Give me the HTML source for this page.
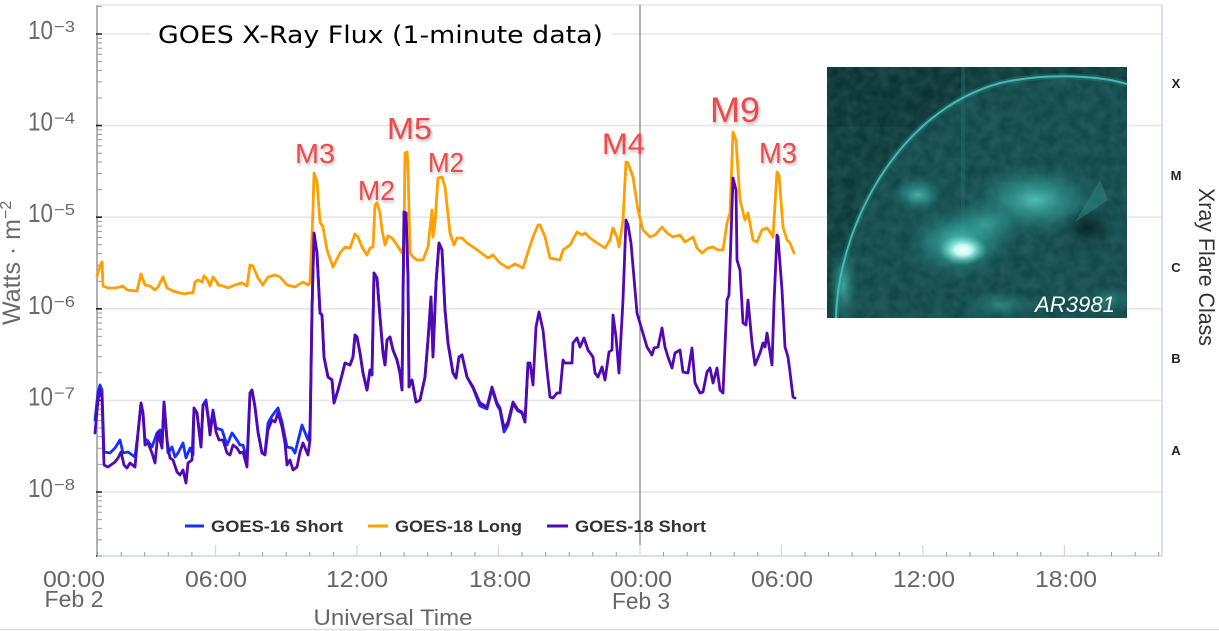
<!DOCTYPE html>
<html>
<head>
<meta charset="utf-8">
<style>
  html,body{margin:0;padding:0;background:#fff;}
  body{width:1219px;height:631px;overflow:hidden;}
  svg{display:block;}
  text{font-family:"Liberation Sans","DejaVu Sans",sans-serif;}
</style>
</head>
<body>
<svg width="1219" height="631" viewBox="0 0 1219 631" xmlns="http://www.w3.org/2000/svg">
  <defs>
    <clipPath id="inset"><rect x="827" y="67" width="300" height="251"/></clipPath>
    <radialGradient id="gMid" cx="50%" cy="50%" r="50%">
      <stop offset="0" stop-color="#5fd8cf" stop-opacity="0.85"/>
      <stop offset="0.5" stop-color="#2f9c96" stop-opacity="0.55"/>
      <stop offset="1" stop-color="#1b6b68" stop-opacity="0"/>
    </radialGradient>
    <radialGradient id="gCore" cx="50%" cy="50%" r="50%">
      <stop offset="0" stop-color="#ffffff" stop-opacity="1"/>
      <stop offset="0.35" stop-color="#c8fff8" stop-opacity="0.95"/>
      <stop offset="1" stop-color="#4fd0c6" stop-opacity="0"/>
    </radialGradient>
    <radialGradient id="gDark" cx="50%" cy="50%" r="50%">
      <stop offset="0" stop-color="#061f1f" stop-opacity="0.8"/>
      <stop offset="1" stop-color="#061f1f" stop-opacity="0"/>
    </radialGradient>
    <filter id="sh" x="-20%" y="-20%" width="140%" height="160%">
      <feDropShadow dx="1" dy="2" stdDeviation="1.5" flood-color="#777" flood-opacity="0.55"/>
    </filter>
    <filter id="noise" x="0" y="0" width="100%" height="100%">
      <feTurbulence type="fractalNoise" baseFrequency="0.09" numOctaves="2" seed="3" result="t"/>
      <feColorMatrix in="t" type="matrix" values="0 0 0 0 0.15  0 0 0 0 0.45  0 0 0 0 0.44  0 0 0 0.5 -0.1"/>
    </filter>
  </defs>

  <!-- plot frame / gridlines -->
  <line x1="97" y1="5" x2="1162" y2="5" stroke="#e6e6e6" stroke-width="1.5"/>
  <g stroke="#e6e6e6" stroke-width="1.6">
    <line x1="97" y1="34" x2="1162" y2="34"/>
    <line x1="97" y1="125.6" x2="1162" y2="125.6"/>
    <line x1="97" y1="217.2" x2="1162" y2="217.2"/>
    <line x1="97" y1="308.8" x2="1162" y2="308.8"/>
    <line x1="97" y1="400.4" x2="1162" y2="400.4"/>
    <line x1="97" y1="492" x2="1162" y2="492"/>
  </g>
  <line x1="1162" y1="5" x2="1162" y2="556" stroke="#ccd6eb" stroke-width="1.5"/>

  <!-- Feb 3 vertical line -->
  <line x1="640" y1="5" x2="640" y2="556" stroke="#666" stroke-width="1"/>

  <!-- title -->
  <rect x="150" y="18" width="462" height="34" fill="#fff"/>
  <text x="158" y="43" font-size="24" fill="#000" textLength="445" lengthAdjust="spacingAndGlyphs" style="font-family:'DejaVu Sans','Liberation Sans',sans-serif">GOES X-Ray Flux (1-minute data)</text>

  <!-- y axis -->
  <line x1="97" y1="5" x2="97" y2="556" stroke="#999" stroke-width="1.5"/>
  <path stroke="#999" stroke-width="1" fill="none" d="
    M97 556h5M97 539.9h5M97 528.4h5M97 519.6h5M97 512.3h5M97 506.2h5M97 500.9h5M97 496.2h5
    M97 464.4h5M97 448.3h5M97 436.8h5M97 428h5M97 420.7h5M97 414.6h5M97 409.3h5M97 404.6h5
    M97 372.8h5M97 356.7h5M97 345.2h5M97 336.4h5M97 329.1h5M97 323h5M97 317.7h5M97 313h5
    M97 281.2h5M97 265.1h5M97 253.6h5M97 244.8h5M97 237.5h5M97 231.4h5M97 226.1h5M97 221.4h5
    M97 189.6h5M97 173.5h5M97 162h5M97 153.2h5M97 145.9h5M97 139.8h5M97 134.5h5M97 129.8h5
    M97 98h5M97 81.9h5M97 70.4h5M97 61.6h5M97 54.3h5M97 48.2h5M97 42.9h5M97 38.2h5
    M97 6.4h5"/>
  <path stroke="#222" stroke-width="1.6" fill="none" d="M96 34h6M96 125.6h6M96 217.2h6M96 308.8h6M96 400.4h6M96 492h6M96 556h6"/>

  <g fill="#6a6a6a">
    <text x="28" y="39" font-size="26" textLength="25" lengthAdjust="spacingAndGlyphs">10</text>
    <text x="54" y="32" font-size="16" textLength="21" lengthAdjust="spacingAndGlyphs">−3</text>
    <text x="28" y="130.6" font-size="26" textLength="25" lengthAdjust="spacingAndGlyphs">10</text>
    <text x="54" y="123.6" font-size="16" textLength="21" lengthAdjust="spacingAndGlyphs">−4</text>
    <text x="28" y="222.2" font-size="26" textLength="25" lengthAdjust="spacingAndGlyphs">10</text>
    <text x="54" y="215.2" font-size="16" textLength="21" lengthAdjust="spacingAndGlyphs">−5</text>
    <text x="28" y="313.8" font-size="26" textLength="25" lengthAdjust="spacingAndGlyphs">10</text>
    <text x="54" y="306.8" font-size="16" textLength="21" lengthAdjust="spacingAndGlyphs">−6</text>
    <text x="28" y="405.4" font-size="26" textLength="25" lengthAdjust="spacingAndGlyphs">10</text>
    <text x="54" y="398.4" font-size="16" textLength="21" lengthAdjust="spacingAndGlyphs">−7</text>
    <text x="28" y="497" font-size="26" textLength="25" lengthAdjust="spacingAndGlyphs">10</text>
    <text x="54" y="490" font-size="16" textLength="21" lengthAdjust="spacingAndGlyphs">−8</text>
  </g>
  <text transform="translate(20,325) rotate(-90)" font-size="25" fill="#6a6a6a">Watts · m<tspan dy="-9" font-size="16">−2</tspan></text>

  <!-- x axis -->
  <line x1="97" y1="556" x2="1162" y2="556" stroke="#ccd6eb" stroke-width="1.5"/>
  <path stroke="#999" stroke-width="1" fill="none" d="
    M97.6 552v4M121.2 552v4M144.7 552v4M168.3 552v4M191.9 552v4
    M239.1 552v4M262.6 552v4M286.2 552v4M309.8 552v4M333.4 552v4
    M380.5 552v4M404.1 552v4M427.7 552v4M451.3 552v4M474.9 552v4
    M522 552v4M545.6 552v4M569.2 552v4M592.8 552v4M616.3 552v4
    M663.5 552v4M687.1 552v4M710.7 552v4M734.2 552v4M757.8 552v4
    M805 552v4M828.6 552v4M852.1 552v4M875.7 552v4M899.3 552v4
    M946.5 552v4M970 552v4M993.6 552v4M1017.2 552v4M1040.8 552v4
    M1087.9 552v4M1111.5 552v4M1135.1 552v4M1158.7 552v4"/>
  <path stroke="#ccd6eb" stroke-width="1.2" fill="none" d="M215.5 545v11M357 545v11M498.4 545v11M640 545v11M781.5 545v11M922.9 545v11M1064.4 545v11"/>

  <g fill="#666" font-size="23" text-anchor="middle">
    <text x="74" y="587" textLength="62" lengthAdjust="spacingAndGlyphs">00:00</text>
    <text x="74" y="607" textLength="59" lengthAdjust="spacingAndGlyphs">Feb 2</text>
    <text x="216" y="587" textLength="62" lengthAdjust="spacingAndGlyphs">06:00</text>
    <text x="357" y="587" textLength="62" lengthAdjust="spacingAndGlyphs">12:00</text>
    <text x="500" y="587" textLength="62" lengthAdjust="spacingAndGlyphs">18:00</text>
    <text x="641" y="587" textLength="62" lengthAdjust="spacingAndGlyphs">00:00</text>
    <text x="641" y="609" textLength="58" lengthAdjust="spacingAndGlyphs">Feb 3</text>
    <text x="782" y="587" textLength="62" lengthAdjust="spacingAndGlyphs">06:00</text>
    <text x="924" y="587" textLength="62" lengthAdjust="spacingAndGlyphs">12:00</text>
    <text x="1066" y="587" textLength="62" lengthAdjust="spacingAndGlyphs">18:00</text>
  </g>
  <text x="393" y="625" font-size="22" fill="#666" text-anchor="middle" textLength="159" lengthAdjust="spacingAndGlyphs">Universal Time</text>

  <!-- right axis class labels -->
  <g font-size="13" font-weight="bold" fill="#222" text-anchor="middle">
    <text x="1176" y="88">X</text>
    <text x="1176" y="180">M</text>
    <text x="1176" y="272">C</text>
    <text x="1176" y="363">B</text>
    <text x="1176" y="455">A</text>
  </g>
  <text transform="translate(1199,188) rotate(90)" font-size="22" fill="#333" textLength="158" lengthAdjust="spacingAndGlyphs">Xray Flare Class</text>

  <!-- series -->
  <g fill="none" stroke-width="2.8" stroke-linejoin="round" stroke-linecap="round">
    <polyline stroke="#1530ff" points="95,420 98,392 100,385 102,390 104,452 110,453 115,448 120,440 123,453 128,452 135,457 138,433 141,403 143,413 145,440 147,440 152,447 157,433 160,430 162,445 164,402 167,440 168,453 172,447 175,457 178,453 183,443 186,458 190,448 193,455 194,408 197,413 201,447 203,405 206,400 208,415 210,430 213,410 216,428 222,430 227,445 232,433 237,440 240,445 243,445 247,460 250,393 252,390 255,407 258,432 262,453 265,453 268,423 272,416 278,408 282,422 287,447 292,448 295,453 302,425 308,440 310,430 312,310 314,233 317,253 320,313 322,315 324,357 328,377 332,380 334,403 338,390 342,375 345,363 350,365 353,357 355,335 357,337 360,353 363,373 367,390 370,370 372,375 374,273 377,278 380,317 383,353 385,365 387,340 390,337 393,350 397,360 400,373 402,390 404,212 406,213 408,277 409,387 412,380 416,402 420,400 425,377 428,340 431,297 433,357 436,283 439,243 442,250 445,310 448,343 453,373 456,378 459,357 462,355 467,377 473,388 480,406 487,409 492,389 497,405 500,410 504,432 508,425 513,404 518,411 522,413 525,422 528,363"/>
    <polyline stroke="#ff9f00" points="97,276 100,266 102,262 103,286 108,288 115,288 120,287 123,286 127,290 137,291 141,274 145,285 150,286 155,290 158,287 163,277 167,288 173,291 180,293 185,294 188,293 193,293 195,282 198,280 202,282 204,276 207,279 210,286 213,277 217,282 218,285 223,286 228,288 235,285 242,283 247,286 250,265 253,266 258,278 263,285 268,277 275,275 280,277 287,285 295,287 303,282 308,285 310,283 313,210 314,173 317,182 320,222 323,227 327,250 333,267 340,253 345,247 350,248 355,234 358,237 362,247 367,255 370,248 373,247 375,205 377,203 380,213 382,230 385,245 388,236 392,238 397,245 402,253 404,243 405,153 407,152 408,167 410,253 413,257 417,260 423,260 428,247 432,210 433,237 435,223 438,178 442,177 445,187 450,233 454,245 457,238 462,238 467,243 473,247 480,252 488,258 493,255 500,263 508,268 515,264 523,268 528,252 533,237 538,225 540,225 545,237 550,258 560,260 563,250 570,245 577,232 582,235 585,233 590,238 597,243 605,248 610,240 613,228 617,237 619,247 623,220 626,162 628,163 633,177 638,210 643,230 650,237 655,235 662,227 667,233 673,237 680,235 685,242 693,237 697,248 702,253 708,248 713,247 718,250 723,250 727,223 730,213 733,132 736,140 740,200 745,220 748,213 753,240 757,242 762,230 767,228 770,232 773,237 777,172 779,175 783,227 787,240 790,243 794,253"/>
    <polyline stroke="#5208b2" points="95,433 98,400 100,390 102,398 104,465 108,467 115,462 118,458 121,452 124,465 127,468 130,463 135,467 138,433 141,403 143,413 145,445 148,443 152,453 155,463 158,433 160,440 162,448 164,402 167,440 170,458 173,460 177,472 180,475 183,470 186,483 188,463 192,460 194,408 197,413 201,447 203,405 206,403 208,417 210,435 213,412 216,432 219,440 223,440 227,453 230,455 233,445 237,448 240,453 243,452 247,467 250,393 252,390 255,407 258,432 262,453 265,455 268,430 272,420 275,422 278,413 282,427 285,443 287,465 290,460 293,470 297,467 300,452 303,443 308,455 310,440 312,310 314,233 317,253 320,313 322,315 324,357 328,377 332,380 334,403 338,390 342,375 345,363 350,365 353,357 355,335 357,337 360,353 363,373 367,390 370,370 372,375 374,273 377,278 380,317 383,353 385,365 387,340 390,337 393,350 397,360 400,373 402,390 404,212 406,213 408,277 409,387 412,380 416,402 420,400 425,377 428,340 431,297 433,357 436,283 439,243 442,250 445,310 448,343 453,373 456,378 459,357 462,355 467,377 473,387 480,403 487,407 492,387 497,403 500,408 504,428 508,422 513,402 518,410 522,412 525,422 528,363 530,363 533,385 536,327 539,312 543,330 547,370 550,397 553,398 557,393 560,393 563,360 565,363 572,363 573,343 577,338 580,347 584,338 588,350 593,357 595,373 598,377 602,367 605,380 609,352 612,350 613,315 616,337 619,373 623,300 626,220 628,225 631,243 637,313 642,330 647,347 652,355 654,348 658,347 662,328 665,347 668,357 672,368 675,353 680,350 683,372 688,373 692,348 695,383 700,393 703,392 707,372 710,368 713,383 717,368 720,390 723,393 727,300 729,295 733,178 736,190 737,260 740,270 743,323 746,325 748,300 752,343 755,365 760,353 763,343 765,347 767,333 772,365 774,303 777,235 778,237 782,290 785,347 788,357 790,372 793,397 795,398"/>
  </g>

  <!-- flare labels -->
  <g fill="#f04848" filter="url(#sh)">
    <text x="295" y="163" font-size="28" textLength="40" lengthAdjust="spacingAndGlyphs">M3</text>
    <text x="358" y="200" font-size="28" textLength="37" lengthAdjust="spacingAndGlyphs">M2</text>
    <text x="387" y="139" font-size="31" textLength="45" lengthAdjust="spacingAndGlyphs">M5</text>
    <text x="428" y="172" font-size="28" textLength="36" lengthAdjust="spacingAndGlyphs">M2</text>
    <text x="602" y="154" font-size="30" textLength="43" lengthAdjust="spacingAndGlyphs">M4</text>
    <text x="710" y="122" font-size="35" textLength="50" lengthAdjust="spacingAndGlyphs">M9</text>
    <text x="759" y="163" font-size="29" textLength="38" lengthAdjust="spacingAndGlyphs">M3</text>
  </g>

  <!-- legend -->
  <g stroke-width="3">
    <line x1="185" y1="526" x2="204" y2="526" stroke="#1530ff"/>
    <line x1="368" y1="526" x2="388" y2="526" stroke="#ff9f00"/>
    <line x1="547" y1="526" x2="568" y2="526" stroke="#5208b2"/>
  </g>
  <g font-size="17" font-weight="bold" fill="#333">
    <text x="211" y="532" textLength="132" lengthAdjust="spacingAndGlyphs">GOES-16 Short</text>
    <text x="395" y="532" textLength="127" lengthAdjust="spacingAndGlyphs">GOES-18 Long</text>
    <text x="575" y="532" textLength="131" lengthAdjust="spacingAndGlyphs">GOES-18 Short</text>
  </g>

  <!-- inset solar image -->
  <g clip-path="url(#inset)">
    <rect x="827" y="67" width="300" height="251" fill="#0d3939"/>
    <rect x="827" y="67" width="136" height="60" fill="#0b3233"/>
    <path d="M836,318 C838,230 895,112 1000,83 C1050,72 1100,76 1127,84 L1127,318 Z" fill="#124748"/>
    <rect x="827" y="67" width="300" height="251" filter="url(#noise)" opacity="0.6"/>
    <line x1="963" y1="67" x2="963" y2="240" stroke="#1f6967" stroke-width="4" opacity="0.55"/>
    <ellipse cx="843" cy="285" rx="16" ry="40" fill="url(#gMid)" opacity="0.75"/>
    <ellipse cx="918" cy="195" rx="28" ry="20" fill="url(#gMid)" opacity="0.85"/>
    <ellipse cx="1035" cy="200" rx="72" ry="38" fill="url(#gMid)" opacity="0.95"/>
    <ellipse cx="985" cy="225" rx="42" ry="27" fill="url(#gMid)" opacity="0.75"/>
    <ellipse cx="958" cy="243" rx="55" ry="38" fill="url(#gMid)"/>
    <ellipse cx="1000" cy="305" rx="45" ry="16" fill="url(#gMid)" opacity="0.45"/>
    <ellipse cx="1110" cy="300" rx="25" ry="15" fill="url(#gMid)" opacity="0.4"/>
    <ellipse cx="1088" cy="228" rx="26" ry="20" fill="url(#gDark)"/>
    <path d="M1075,222 L1100,180 L1108,200 Z" fill="#2e8f8a" opacity="0.45"/>
    <ellipse cx="963" cy="250" rx="24" ry="15" fill="url(#gCore)"/>
    <path d="M836,318 C838,230 895,112 1000,83 C1050,72 1100,76 1127,84" fill="none" stroke="#2c8c88" stroke-width="6" opacity="0.35"/>
    <path d="M836,318 C838,230 895,112 1000,83 C1050,72 1100,76 1127,84" fill="none" stroke="#45b9b3" stroke-width="2"/>
    <text x="1035" y="312" font-size="22" font-style="italic" fill="#f4ffff" textLength="80" lengthAdjust="spacingAndGlyphs">AR3981</text>
  </g>

  <!-- bottom border -->
  <line x1="0" y1="629.5" x2="1219" y2="629.5" stroke="#dcdcdc" stroke-width="1.5"/>
</svg>
</body>
</html>
